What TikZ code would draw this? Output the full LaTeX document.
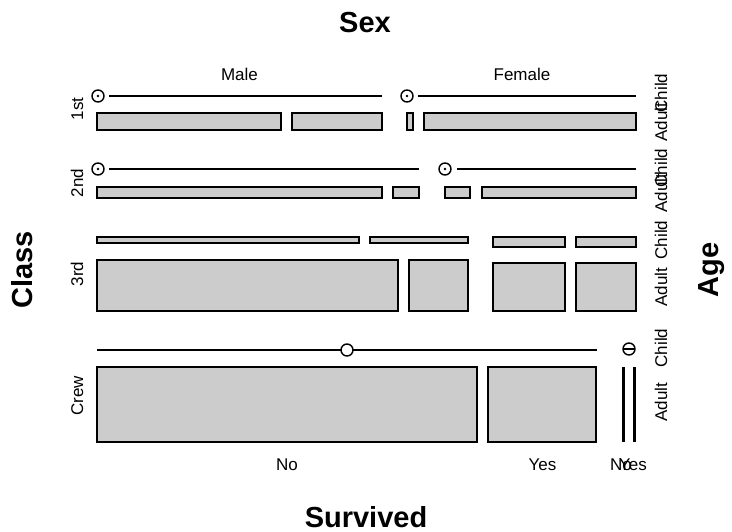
\documentclass[tikz,border=0pt]{standalone}
\usepackage{fontspec}
\setmainfont{Liberation Sans}
\definecolor{cellgray}{HTML}{CCCCCC}
\begin{document}
\begin{tikzpicture}[x=1pt,y=-1pt,
  cell/.style={draw=black,fill=cellgray,line width=1.3pt},
  zline/.style={line width=2.2pt},
  zcirc/.style={draw=black,fill=white,line width=1.4pt},
  vline/.style={line width=3pt},
  lab/.style={font=\fontsize{17}{20}\selectfont,inner sep=0pt},
  ttl/.style={font=\bfseries\fontsize{29}{34}\selectfont,inner sep=0pt}]
\useasboundingbox (0,0) rectangle (732,532);
% titles
\node[ttl,anchor=base] (tsex) at (365,33) {Sex};
\node[ttl,anchor=base] (tsurv) at (366,527) {Survived};
\node[ttl,rotate=90] (tclass) at (22,270) {Class};
\node[ttl,rotate=90] (tage) at (712,270) {Age};
% top labels
\node[lab,anchor=base] (lmale) at (239.5,81) {Male};
\node[lab,anchor=base] (lfemale) at (522,81) {Female};
% bottom labels
\node[lab,anchor=base] (lno1) at (287,470) {No};
\node[lab,anchor=base] (lyes1) at (542.5,470) {Yes};
\node[lab,anchor=base] (lno2) at (621,470) {No};
\node[lab,anchor=base] (lyes2) at (633,470) {Yes};
% left labels
\node[lab,anchor=base,rotate=90] (c1) at (83,109) {1st};
\node[lab,anchor=base,rotate=90] (c2) at (83,183) {2nd};
\node[lab,anchor=base,rotate=90] (c3) at (83,274) {3rd};
\node[lab,anchor=base,rotate=90] (c4) at (83,396) {Crew};
% right labels
\node[lab,anchor=base,rotate=90] (a1c) at (667,93) {Child};
\node[lab,anchor=base,rotate=90] (a1a) at (667,122) {Adult};
\node[lab,anchor=base,rotate=90] (a2c) at (667,168) {Child};
\node[lab,anchor=base,rotate=90] (a2a) at (667,193) {Adult};
\node[lab,anchor=base,rotate=90] (a3c) at (667,240) {Child};
\node[lab,anchor=base,rotate=90] (a3a) at (667,287) {Adult};
\node[lab,anchor=base,rotate=90] (a4c) at (667,348) {Child};
\node[lab,anchor=base,rotate=90] (a4a) at (667,402) {Adult};
% ---- 1st class
\draw[zline] (109,96) -- (382,96);
\draw[zcirc] (98,96) circle[radius=6];
\fill (98,96) circle[radius=1.3];
\draw[zline] (418,96) -- (636,96);
\draw[zcirc] (407,96) circle[radius=6];
\fill (407,96) circle[radius=1.3];
\draw[cell] (97,113) rectangle (281,130);
\draw[cell] (292,113) rectangle (382,130);
\draw[cell] (407,113) rectangle (413,130);
\draw[cell] (424,113) rectangle (636,130);
% ---- 2nd class
\draw[zline] (109,169) -- (419,169);
\draw[zcirc] (98,169) circle[radius=6];
\fill (98,169) circle[radius=1.3];
\draw[zline] (457,169) -- (636,169);
\draw[zcirc] (445,169) circle[radius=6];
\fill (445,169) circle[radius=1.3];
\draw[cell] (97,187) rectangle (382,198);
\draw[cell] (393,187) rectangle (419,198);
\draw[cell] (445,187) rectangle (470,198);
\draw[cell] (482,187) rectangle (636,198);
% ---- 3rd class
\draw[cell] (97,237) rectangle (359,243);
\draw[cell] (370,237) rectangle (468,243);
\draw[cell] (493,237) rectangle (565,247);
\draw[cell] (576,237) rectangle (636,247);
\draw[cell] (97,260) rectangle (398,311);
\draw[cell] (409,260) rectangle (468,311);
\draw[cell] (493,263) rectangle (565,311);
\draw[cell] (576,263) rectangle (636,311);
% ---- Crew
\draw[zline] (97,350) -- (597,350);
\draw[zcirc] (347,350) circle[radius=6];
\draw[zcirc] (629,349) circle[radius=6];
\draw[line width=1.4pt] (623,349) -- (635,349);
\draw[cell] (97,367) rectangle (477,442);
\draw[cell] (488,367) rectangle (596,442);
\draw[vline] (623,367) -- (623,442);
\draw[vline] (634,367) -- (634,442);
\end{tikzpicture}
\end{document}
